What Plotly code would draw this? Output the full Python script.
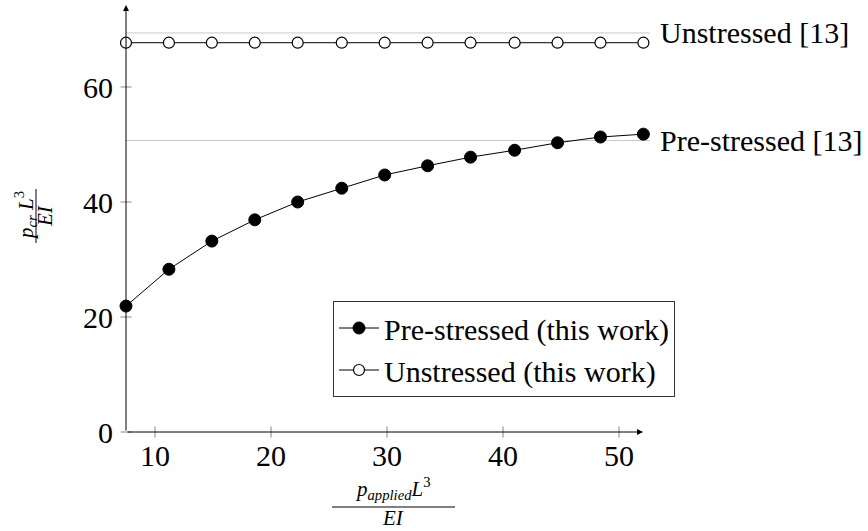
import plotly.graph_objects as go

# ---- data ----
p_applied = [7.5, 11.2, 14.9, 18.6, 22.3, 26.1, 29.8, 33.5, 37.2, 41.0, 44.7, 48.4, 52.1]
pre_stressed = [21.9, 28.3, 33.2, 36.9, 40.0, 42.4, 44.7, 46.3, 47.8, 49.0, 50.3, 51.3, 51.8]
unstressed = [67.7, 67.7, 67.7, 67.7, 67.7, 67.7, 67.7, 67.7, 67.7, 67.7, 67.7, 67.7, 67.7]
ref_unstressed = 69.4
ref_prestressed = 50.7
x_ticks = [10, 20, 30, 40, 50]
y_ticks = [0, 20, 40, 60]

X_RANGE = [7.5, 52.67]
Y_RANGE = [0, 74.26]
X_ARROW_END = 52.07

FONT = "Liberation Serif"
FS = 30

W, H = 868, 531
ML, MR, MT, MB = 126, 218, 5, 99
PW = W - ML - MR
PH = H - MT - MB


def px_x(p):
    return (p - ML) / PW


def px_y(p):
    return (H - MB - p) / PH


fig = go.Figure()

# reference lines (grey)
fig.add_trace(go.Scatter(x=[X_RANGE[0], X_RANGE[1]], y=[ref_unstressed, ref_unstressed],
                         mode="lines", line=dict(color="#c8c8c8", width=1), showlegend=False,
                         hoverinfo="skip"))
fig.add_trace(go.Scatter(x=[X_RANGE[0], X_RANGE[1]], y=[ref_prestressed, ref_prestressed],
                         mode="lines", line=dict(color="#c8c8c8", width=1), showlegend=False,
                         hoverinfo="skip"))

fig.add_trace(go.Scatter(x=p_applied, y=pre_stressed, mode="lines+markers",
                         name="Pre-stressed (this work)",
                         line=dict(color="black", width=1),
                         marker=dict(symbol="circle", size=12, color="black",
                                     line=dict(color="black", width=1)),
                         cliponaxis=False))
fig.add_trace(go.Scatter(x=p_applied, y=unstressed, mode="lines+markers",
                         name="Unstressed (this work)",
                         line=dict(color="black", width=1),
                         marker=dict(symbol="circle", size=11, color="white",
                                     line=dict(color="black", width=1.2)),
                         cliponaxis=False))

annotations = []
shapes = []

# axis lines with arrows
annotations.append(dict(x=X_ARROW_END, y=0, ax=X_RANGE[0], ay=0, xref="x", yref="y",
                        axref="x", ayref="y", text="", showarrow=True, arrowhead=2,
                        arrowsize=1.2, arrowwidth=1, arrowcolor="black"))
annotations.append(dict(x=X_RANGE[0], y=Y_RANGE[1], ax=X_RANGE[0], ay=0, xref="x", yref="y",
                        axref="x", ayref="y", text="", showarrow=True, arrowhead=2,
                        arrowsize=1.2, arrowwidth=1, arrowcolor="black"))

# crossing tick marks
for tv in x_ticks:
    xp = (tv - X_RANGE[0]) / (X_RANGE[1] - X_RANGE[0])
    shapes.append(dict(type="line", xref="paper", yref="paper", x0=xp, x1=xp,
                       y0=-5.5 / PH, y1=5.5 / PH, line=dict(color="#888", width=1)))
for tv in y_ticks:
    yp = (tv - Y_RANGE[0]) / (Y_RANGE[1] - Y_RANGE[0])
    shapes.append(dict(type="line", xref="paper", yref="paper", y0=yp, y1=yp,
                       x0=-5.5 / PW, x1=5.5 / PW, line=dict(color="#888", width=1)))

# right side labels
annotations.append(dict(x=X_RANGE[1], y=ref_unstressed, xref="x", yref="y", xanchor="left",
                        yanchor="middle", xshift=8, text="Unstressed [13]", showarrow=False,
                        font=dict(family=FONT, size=FS, color="black")))
annotations.append(dict(x=X_RANGE[1], y=ref_prestressed, xref="x", yref="y", xanchor="left",
                        yanchor="middle", xshift=8, text="Pre-stressed [13]", showarrow=False,
                        font=dict(family=FONT, size=FS, color="black")))

# x axis title (fraction)
annotations.append(dict(x=px_x(393), y=px_y(505), xref="paper", yref="paper",
                        text="<i>p</i><sub><i>applied</i></sub><i>L</i><sup>3</sup>",
                        showarrow=False, xanchor="center", yanchor="bottom",
                        font=dict(family=FONT, size=21, color="black")))
shapes.append(dict(type="line", xref="paper", yref="paper", x0=px_x(332), x1=px_x(455),
                   y0=px_y(507), y1=px_y(507), line=dict(color="black", width=1)))
annotations.append(dict(x=px_x(393), y=px_y(518), xref="paper", yref="paper",
                        text="<i>EI</i>", showarrow=False, xanchor="center", yanchor="middle",
                        font=dict(family=FONT, size=21, color="black")))

# y axis title (fraction, rotated)
annotations.append(dict(x=px_x(25), y=px_y(216), xref="paper", yref="paper",
                        text="<i>p</i><sub><i>cr</i></sub><i> L</i><sup>3</sup>", textangle=-90,
                        showarrow=False, xanchor="center", yanchor="middle",
                        font=dict(family=FONT, size=21, color="black")))
shapes.append(dict(type="line", xref="paper", yref="paper", x0=px_x(36), x1=px_x(36),
                   y0=px_y(189), y1=px_y(243), line=dict(color="black", width=1)))
annotations.append(dict(x=px_x(45), y=px_y(216), xref="paper", yref="paper",
                        text="<i>EI</i>", textangle=-90, showarrow=False,
                        xanchor="center", yanchor="middle",
                        font=dict(family=FONT, size=21, color="black")))

fig.update_layout(
    width=W, height=H,
    margin=dict(l=ML, r=MR, t=MT, b=MB, pad=0),
    paper_bgcolor="white", plot_bgcolor="white",
    font=dict(family=FONT, size=FS, color="black"),
    xaxis=dict(range=X_RANGE, tickvals=x_ticks, showline=False, showgrid=False,
               zeroline=False, ticks="", ticklabelstandoff=3,
               tickfont=dict(family=FONT, size=FS, color="black")),
    yaxis=dict(range=Y_RANGE, tickvals=y_ticks, showline=False, showgrid=False,
               zeroline=False, ticks="", ticklabelstandoff=12,
               tickfont=dict(family=FONT, size=FS, color="black")),
    legend=dict(x=px_x(333), y=px_y(301), xanchor="left", yanchor="top",
                bgcolor="white", bordercolor="#333", borderwidth=1,
                font=dict(family=FONT, size=FS, color="black"),
                tracegroupgap=0, itemwidth=40),
    annotations=annotations,
    shapes=shapes,
    showlegend=True,
)

fig.write_html("out.html")
